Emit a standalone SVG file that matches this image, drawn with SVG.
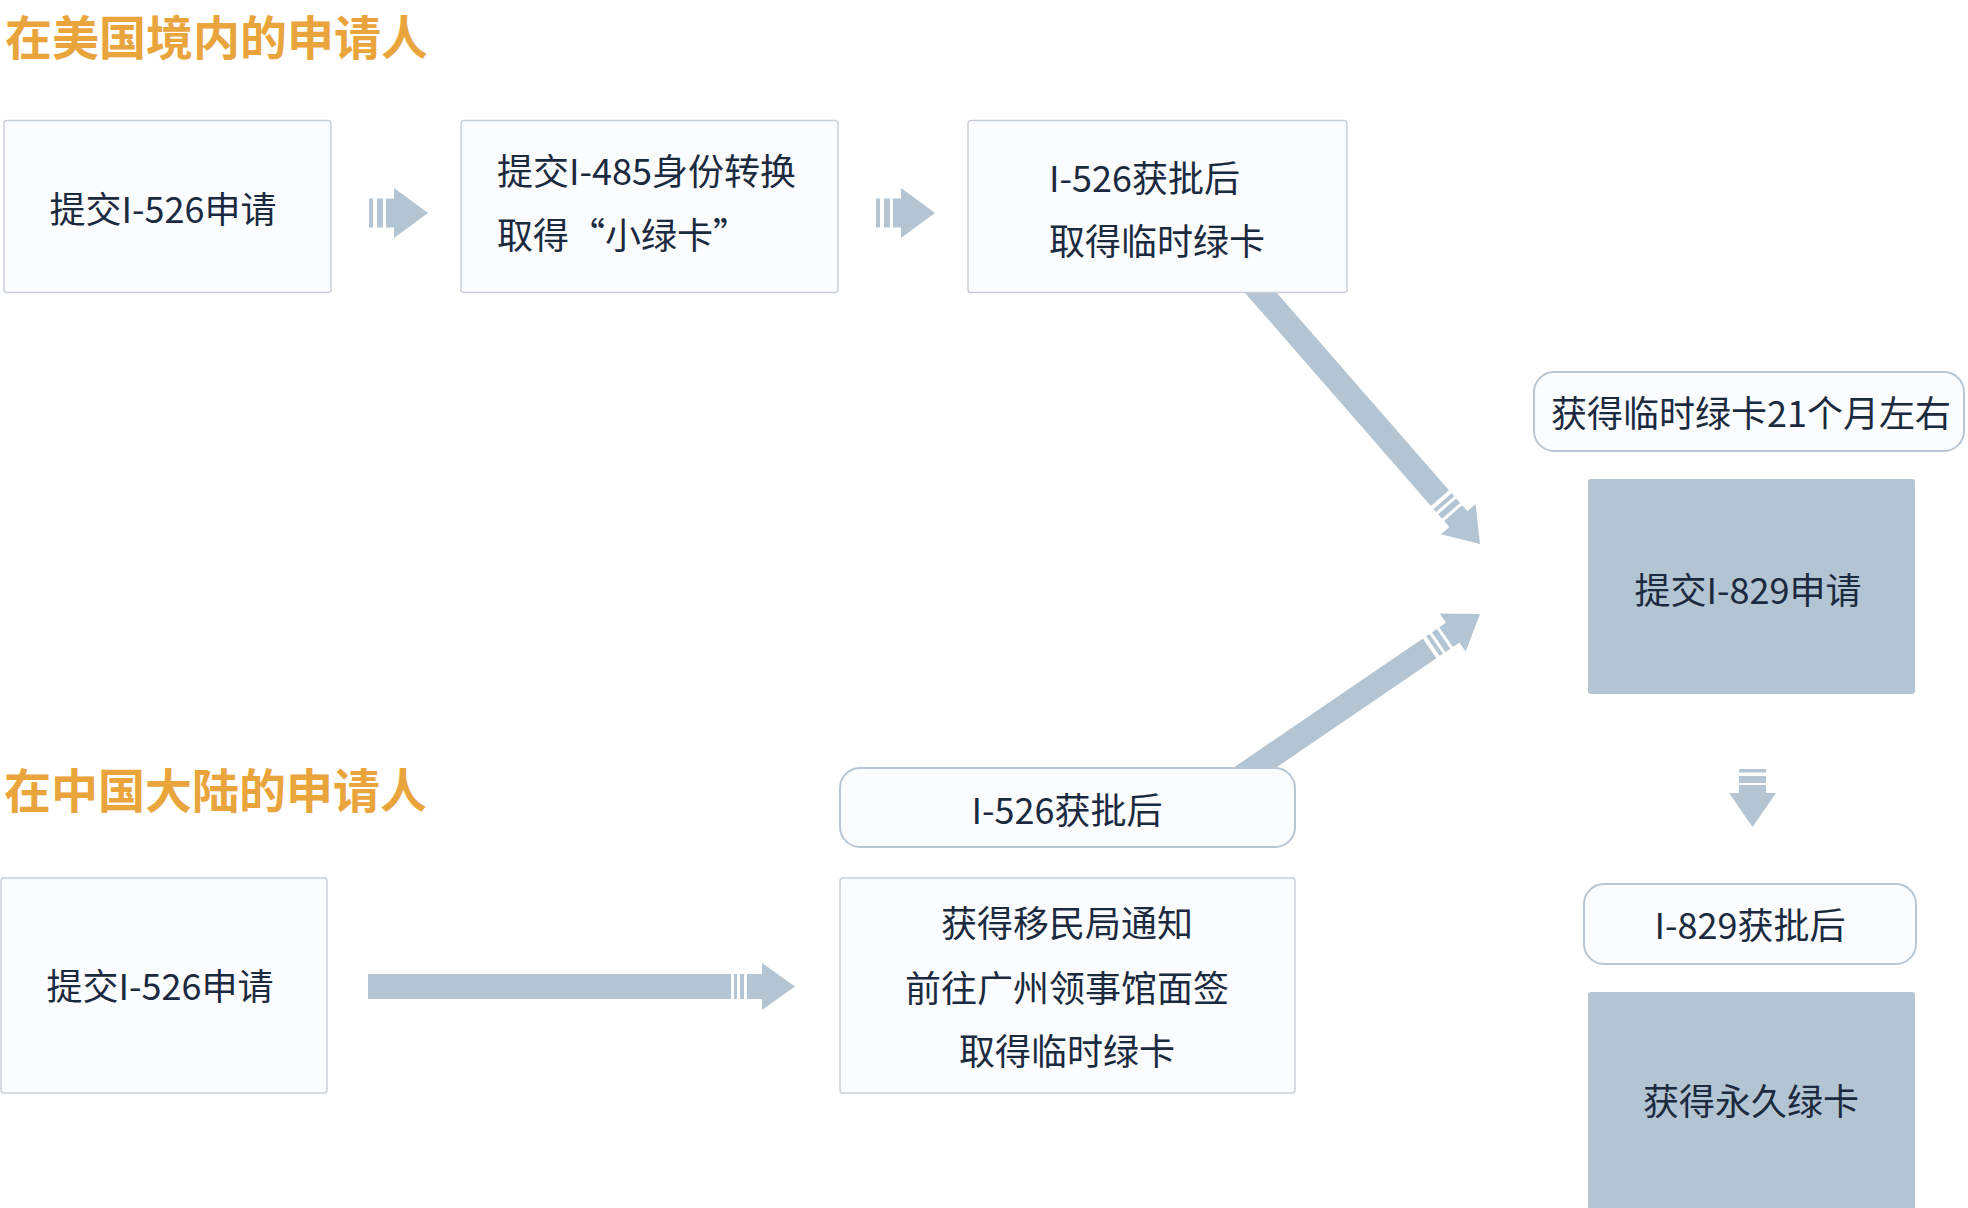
<svg xmlns="http://www.w3.org/2000/svg" width="1968" height="1208" viewBox="0 0 1968 1208">
<style>
  .title { font-family: "Noto Sans CJK SC", "Noto Sans", sans-serif; font-size: 47px; font-weight: 700; fill: #E9A43C; }
  .t { font-family: "Noto Sans CJK SC", "Noto Sans", sans-serif; font-size: 36px; fill: #1B2A3E; dominant-baseline: central; }
  .c { text-anchor: middle; }
  .box { fill: #FAFCFE; stroke: #C7CFD8; stroke-width: 1.5; }
  .pill { fill: #FAFCFE; stroke: #B9C6D2; stroke-width: 2; }
  .solid { fill: #B3C4D3; }
  .arr { fill: #B3C4D3; }
</style>
<rect width="1968" height="1208" fill="#FFFFFF"/>

<g id="connectors" class="arr">
  <!-- upper small arrow 1 -->
  <g transform="translate(428,213)">
    <path d="M0,0 L-34,-25 L-34,-14.5 L-42,-14.5 L-42,14.5 L-34,14.5 L-34,25 Z"/>
    <rect x="-51" y="-14.5" width="6" height="29"/>
    <rect x="-59" y="-14.5" width="4" height="29"/>
  </g>
  <!-- upper small arrow 2 -->
  <g transform="translate(935,213)">
    <path d="M0,0 L-34,-25 L-34,-14.5 L-42,-14.5 L-42,14.5 L-34,14.5 L-34,25 Z"/>
    <rect x="-51" y="-14.5" width="6" height="29"/>
    <rect x="-59" y="-14.5" width="4" height="29"/>
  </g>
  <!-- upper diagonal to I-829 -->
  <g transform="translate(1480,544) rotate(48.9)">
    <path d="M0,0 L-33,-23 L-33,-12 L-41,-12 L-41,12 L-33,12 L-33,23 Z"/>
    <rect x="-50" y="-12" width="6" height="24"/>
    <rect x="-57" y="-12" width="4" height="24"/>
    <rect x="-345" y="-12" width="284" height="24"/>
  </g>
  <!-- lower diagonal to I-829 -->
  <g transform="translate(1480,614) rotate(-34.3)">
    <path d="M0,0 L-33,-23 L-33,-12 L-41,-12 L-41,12 L-33,12 L-33,23 Z"/>
    <rect x="-50" y="-12" width="6" height="24"/>
    <rect x="-57" y="-12" width="4" height="24"/>
    <rect x="-300" y="-12" width="239" height="24"/>
  </g>
  <!-- lower long horizontal arrow -->
  <g transform="translate(795,986.5)">
    <path d="M0,0 L-33,-23.5 L-33,-12.5 L-48,-12.5 L-48,12.5 L-33,12.5 L-33,23.5 Z"/>
    <rect x="-55" y="-12.5" width="4" height="25"/>
    <rect x="-61" y="-12.5" width="3" height="25"/>
    <rect x="-427" y="-12.5" width="363" height="25"/>
  </g>
  <!-- down arrow -->
  <g transform="translate(1752.5,827) rotate(90)">
    <path d="M0,0 L-34,-23.5 L-34,-13.5 L-42,-13.5 L-42,13.5 L-34,13.5 L-34,23.5 Z"/>
    <rect x="-51" y="-13.5" width="7" height="27"/>
    <rect x="-58" y="-13.5" width="3.5" height="27"/>
  </g>
</g>

<g id="title-us"><text class="title" x="5" y="55">在美国境内的申请人</text></g>
<g id="title-cn"><text class="title" x="4" y="808">在中国大陆的申请人</text></g>

<g id="us-submit-526">
  <rect class="box" x="4" y="120.5" width="327" height="172" rx="3"/>
  <text class="t c" x="163" y="207">提交I-526申请</text>
</g>
<g id="us-submit-485">
  <rect class="box" x="461" y="120.5" width="377" height="172" rx="3"/>
  <text class="t" x="497" y="169">提交I-485身份转换</text>
  <text class="t" x="497" y="233">取得“小绿卡”</text>
</g>
<g id="us-temp-card">
  <rect class="box" x="968" y="120.5" width="379" height="172" rx="3"/>
  <text class="t" x="1049" y="176">I-526获批后</text>
  <text class="t" x="1049" y="238.5">取得临时绿卡</text>
</g>
<g id="label-21-months">
  <rect class="pill" x="1534" y="372" width="430" height="79" rx="20"/>
  <text class="t c" x="1751" y="411">获得临时绿卡21个月左右</text>
</g>
<g id="submit-829">
  <rect class="solid" x="1588" y="479" width="327" height="215" rx="3"/>
  <text class="t c" x="1748" y="588">提交I-829申请</text>
</g>
<g id="cn-label-526">
  <rect class="pill" x="840" y="768" width="455" height="79" rx="20"/>
  <text class="t c" x="1067" y="808">I-526获批后</text>
</g>
<g id="cn-submit-526">
  <rect class="box" x="1" y="878" width="326" height="215" rx="3"/>
  <text class="t c" x="160" y="984">提交I-526申请</text>
</g>
<g id="cn-temp-card">
  <rect class="box" x="840" y="878" width="455" height="215" rx="3"/>
  <text class="t c" x="1067" y="921">获得移民局通知</text>
  <text class="t c" x="1067" y="986">前往广州领事馆面签</text>
  <text class="t c" x="1067" y="1049">取得临时绿卡</text>
</g>
<g id="label-829">
  <rect class="pill" x="1584" y="884" width="332" height="80" rx="20"/>
  <text class="t c" x="1750" y="923">I-829获批后</text>
</g>
<g id="permanent-card">
  <rect class="solid" x="1588" y="992" width="327" height="230" rx="3"/>
  <text class="t c" x="1751" y="1099">获得永久绿卡</text>
</g>
</svg>
